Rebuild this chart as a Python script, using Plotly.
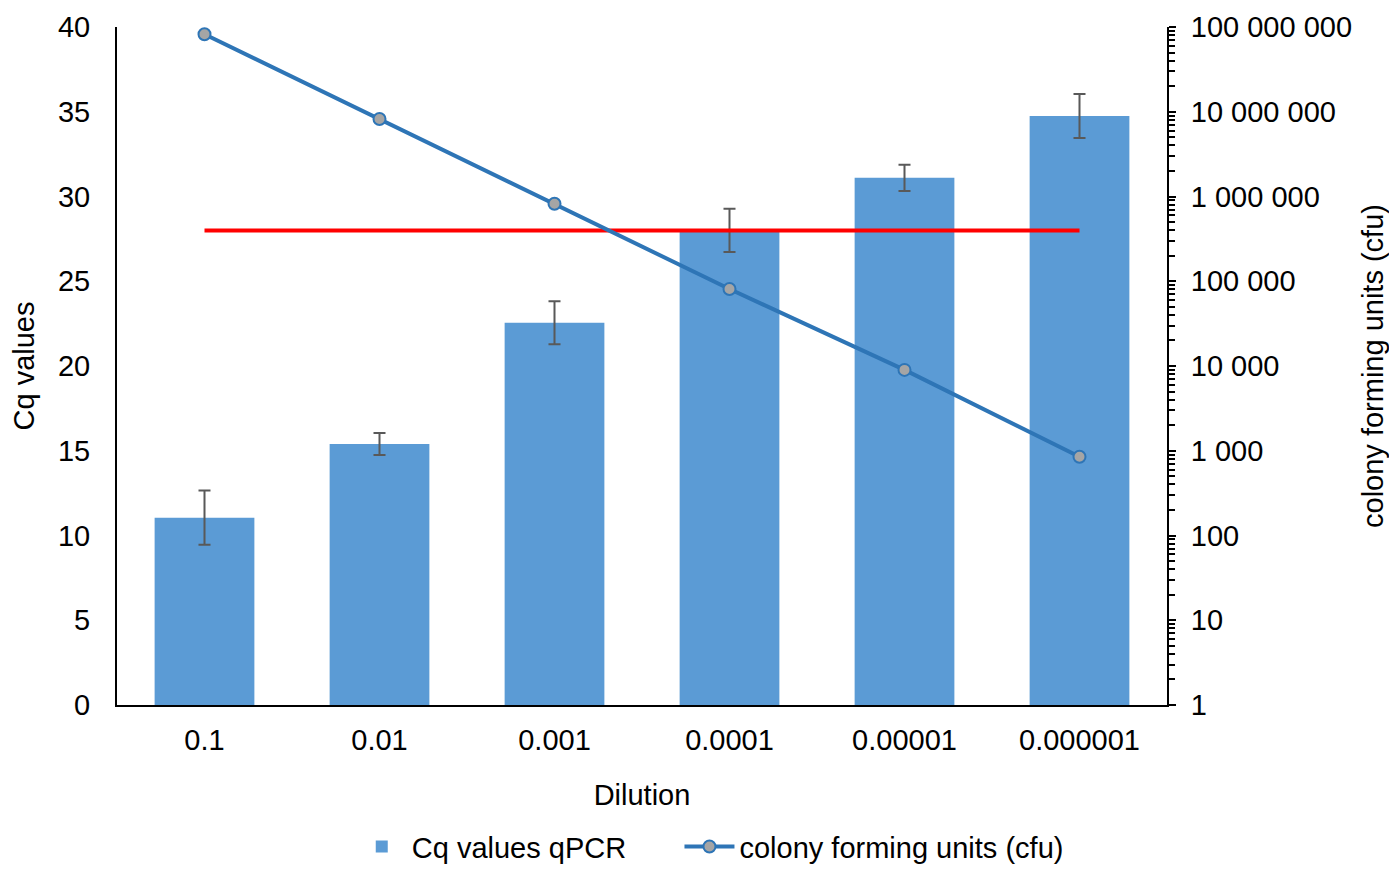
import plotly.graph_objects as go

dilutions = ["0.1", "0.01", "0.001", "0.0001", "0.00001", "0.000001"]
cq_values = [11.05, 15.4, 22.55, 28.0, 31.1, 34.75]
cq_errors = [1.6, 0.65, 1.27, 1.27, 0.78, 1.3]
cfu_values = [82000000, 8200000, 820000, 81000, 9000, 850]
cq_cutoff = [28, 28]
cutoff_x = ["0.1", "0.000001"]

right_tickvals = [1, 10, 100, 1000, 10000, 100000, 1000000, 10000000, 100000000]
right_ticktext = ["1", "10", "100", "1 000", "10 000", "100 000", "1 000 000", "10 000 000", "100 000 000"]
minor_vals = [m * 10 ** k for k in range(8) for m in range(2, 10)]

FONT = "Liberation Sans, Arial, sans-serif"
FS = 29
PAD = "\u00a0" * 6

fig = go.Figure()
fig.add_trace(go.Bar(
    x=dilutions, y=cq_values, name="Cq values qPCR" + PAD,
    marker=dict(color="#5B9BD5", line=dict(width=0)),
    error_y=dict(type="data", array=cq_errors, visible=True, color="#595959", thickness=2, width=6),
    yaxis="y",
))
fig.add_trace(go.Scatter(
    x=cutoff_x, y=cq_cutoff, mode="lines", showlegend=False,
    line=dict(color="#FF0000", width=4), yaxis="y", hoverinfo="skip",
))
fig.add_trace(go.Scatter(
    x=dilutions, y=cfu_values, name="colony forming units (cfu)", mode="lines+markers",
    line=dict(color="#2E75B6", width=4),
    marker=dict(size=12, color="#A5A5A5", line=dict(color="#2E75B6", width=2)),
    yaxis="y2",
))

fig.update_layout(
    width=1381, height=856,
    margin=dict(l=109, r=222, t=19, b=159, autoexpand=False),
    paper_bgcolor="white", plot_bgcolor="white",
    font=dict(family=FONT, size=FS, color="black"),
    bargap=0.43,
    showlegend=True,
    legend=dict(orientation="h", x=0.565, xanchor="center", y=-0.209, yanchor="middle",
                font=dict(size=FS), itemwidth=50, bgcolor="rgba(0,0,0,0)"),
    xaxis=dict(
        type="category", title=dict(text="Dilution", standoff=30, font=dict(size=FS)),
        showline=True, linecolor="black", linewidth=2, ticks="", showgrid=False,
        tickfont=dict(size=FS), ticklabelstandoff=8, automargin=False,
    ),
    yaxis=dict(
        range=[0, 40], dtick=5, showgrid=False, showline=True, linecolor="black", linewidth=2,
        ticks="", title=dict(text="Cq values", font=dict(size=FS), standoff=22),
        tickfont=dict(size=FS), zeroline=False, ticklabelstandoff=19, automargin=False,
    ),
    yaxis2=dict(
        type="log", range=[0, 8], overlaying="y", side="right", showgrid=False,
        showline=True, linecolor="black", linewidth=2,
        tickmode="array", tickvals=right_tickvals, ticktext=right_ticktext,
        ticks="outside", ticklen=7, tickwidth=2, tickcolor="black",
        minor=dict(tickmode="array", tickvals=minor_vals, ticks="outside", ticklen=6, tickwidth=2, tickcolor="black"),
        title=dict(text="colony forming units (cfu)", font=dict(size=FS), standoff=29),
        tickfont=dict(size=FS), zeroline=False, ticklabelstandoff=9, automargin=False,
    ),
)

fig.write_html("out.html")
